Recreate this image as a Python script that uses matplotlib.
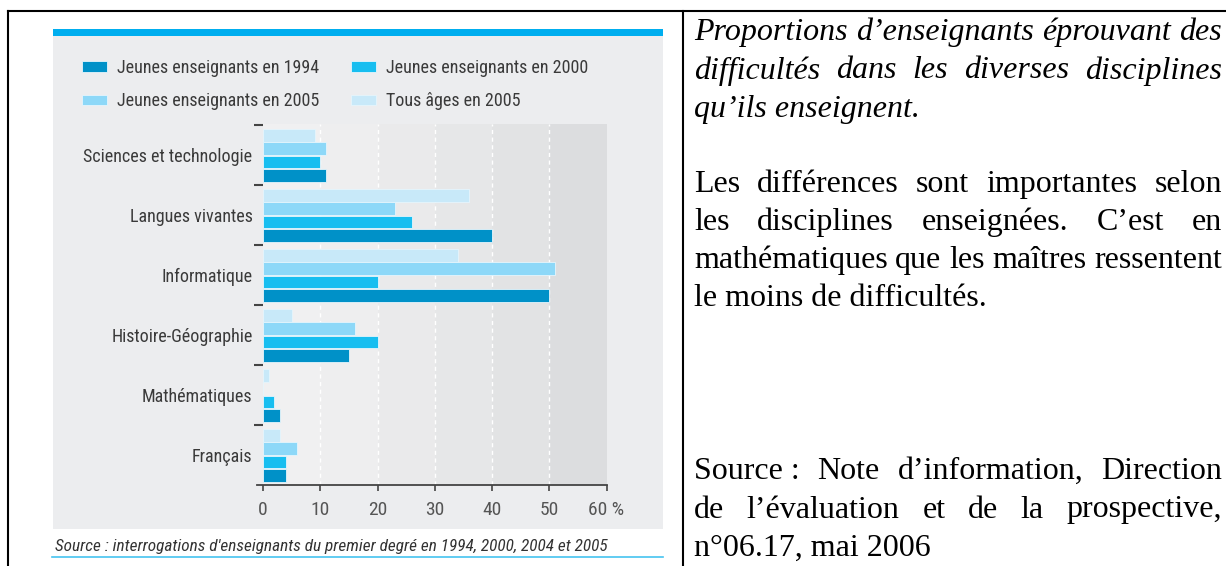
import numpy as np
import matplotlib
matplotlib.use("Agg")
import matplotlib.pyplot as plt
from matplotlib.patches import Rectangle

# données
categories = ["Sciences et technologie", "Langues vivantes", "Informatique",
              "Histoire-Géographie", "Mathématiques", "Français"]
series_labels = ["Tous âges en 2005", "Jeunes enseignants en 2005",
                 "Jeunes enseignants en 2000", "Jeunes enseignants en 1994"]
tous_2005 = [9, 36, 34, 5, 1, 3]
jeunes_2005 = [11, 23, 51, 16, 0, 6]
jeunes_2000 = [10, 26, 20, 20, 2, 4]
jeunes_1994 = [11, 40, 50, 15, 3, 4]
x_ticks = [0, 10, 20, 30, 40, 50, 60]
x_tick_labels = ["0", "10", "20", "30", "40", "50", "60 %"]

colors = ["#c8e9f9", "#8dd8f8", "#17bef0", "#0091c8"]
band_shades = ["#f0f0f1", "#eeeeef", "#eaeaeb", "#e6e7e8", "#e2e3e4", "#dcdddf"]

sans = ["Roboto Condensed", "Archivo Narrow", "DejaVu Sans"]
serif = ["Liberation Serif", "DejaVu Serif"]

W, H = 1226, 566
fig = plt.figure(figsize=(W / 100, H / 100), dpi=100)

# fond en coordonnées pixels
bg = fig.add_axes([0, 0, 1, 1], zorder=0)
bg.set_xlim(0, W)
bg.set_ylim(H, 0)
bg.axis("off")

bg.plot([8, W], [11, 11], color="black", lw=1.5, solid_capstyle="projecting")
bg.plot([8, 8], [11, H], color="black", lw=1.5)
bg.plot([683, 683], [11, H], color="black", lw=1.5)

bg.add_patch(Rectangle((53, 36), 610, 493, color="#ecedef", lw=0))
bg.add_patch(Rectangle((53, 29), 610, 7, color="#00aeef", lw=0))

# graphique
ax = fig.add_axes([263 / W, 1 - 485 / H, (606.5 - 263) / W, (485 - 124) / H], zorder=1)
ax.patch.set_visible(False)

for k, c in enumerate(band_shades):
    ax.axvspan(k * 10, k * 10 + 10, color=c, lw=0, zorder=0)
for v in x_ticks[1:-1]:
    ax.axvline(v, color="white", lw=1, ls=(0, (3, 2.5)), zorder=0.5)

series = [tous_2005, jeunes_2005, jeunes_2000, jeunes_1994]
group = np.arange(len(categories)) * 4
bars = []
for j, (vals, c, lab) in enumerate(zip(series, colors, series_labels)):
    y = group + 0.27 + j * 0.89 + 0.415
    b = ax.barh(y, vals, height=0.83, color=c, edgecolor="#e6f5fc", lw=0.6,
                label=lab, zorder=2)
    bars.append(b)

ax.set_xlim(0, 60)
ax.set_ylim(24, -0.07)
for s in ax.spines.values():
    s.set_visible(False)
ax.plot([-1, 60], [24, 24], clip_on=False, color="#444444", lw=1.3, zorder=3)

ax.set_xticks(x_ticks)
ax.set_xticklabels(x_tick_labels, family=sans, fontsize=14, color="#555555")
ax.tick_params(axis="x", direction="out", length=4.5, width=1.2, color="#444444", pad=7)

ax.set_yticks(group)
ax.set_yticklabels([])
ax.tick_params(axis="y", which="major", length=6.5, width=1.5, color="#444444")
ax.set_yticks(group + 2.02, minor=True)
ax.set_yticklabels(categories, minor=True, family=sans, fontsize=13, color="#3a3a3a")
ax.tick_params(axis="y", which="minor", length=0, pad=7.5)

handles = [bars[3], bars[1], bars[2], bars[0]]
labels = [series_labels[3], series_labels[1], series_labels[2], series_labels[0]]
fig.legend(handles, labels, ncol=2, loc="upper left",
           bbox_to_anchor=(82 / W, 1 - 59 / H), frameon=False,
           prop={"family": sans, "size": 13}, labelcolor="#3a3a3a",
           handlelength=1.4, handleheight=0.55, handletextpad=0.55,
           columnspacing=1.75, labelspacing=0.85, borderaxespad=0, borderpad=0)

bg.text(55, 546, "Source : interrogations d'enseignants du premier degré en 1994, 2000, 2004 et 2005",
        family=sans, style="italic", fontsize=12.4, va="center", color="#333333")
bg.plot([52, 663], [556.5, 556.5], color="#45c3f0", lw=1.2)

# texte de droite, justifié
renderer = fig.canvas.get_renderer()


def justify(lines, x0, x1, y0, pitch, **kw):
    for k, (line, full) in enumerate(lines):
        y = y0 + k * pitch
        if not full:
            bg.text(x0, y, line, va="baseline", **kw)
            continue
        words = line.split(" ")
        texts = [bg.text(0, y, w, va="baseline", **kw) for w in words]
        widths = [t.get_window_extent(renderer).width for t in texts]
        gap = (x1 - x0 - sum(widths)) / (len(words) - 1)
        x = x0
        for t, w in zip(texts, widths):
            t.set_x(x)
            x += w + gap


txt = dict(family=serif, fontsize=23, color="black")
justify([("Proportions d’enseignants éprouvant des", True),
         ("difficultés dans les diverses disciplines", True),
         ("qu’ils enseignent.", False)], 694, 1222, 40, 38.5, style="italic", **txt)
justify([("Les différences sont importantes selon", True),
         ("les disciplines enseignées. C’est en", True),
         ("mathématiques que les maîtres ressentent", True),
         ("le moins de difficultés.", False)], 694, 1222, 192, 38, **txt)
justify([("Source\u00a0: Note d’information, Direction", True),
         ("de l’évaluation et de la prospective,", True),
         ("n°06.17, mai 2006", False)], 694, 1222, 479, 38.5, **txt)

fig.savefig("out.png", dpi=100)
